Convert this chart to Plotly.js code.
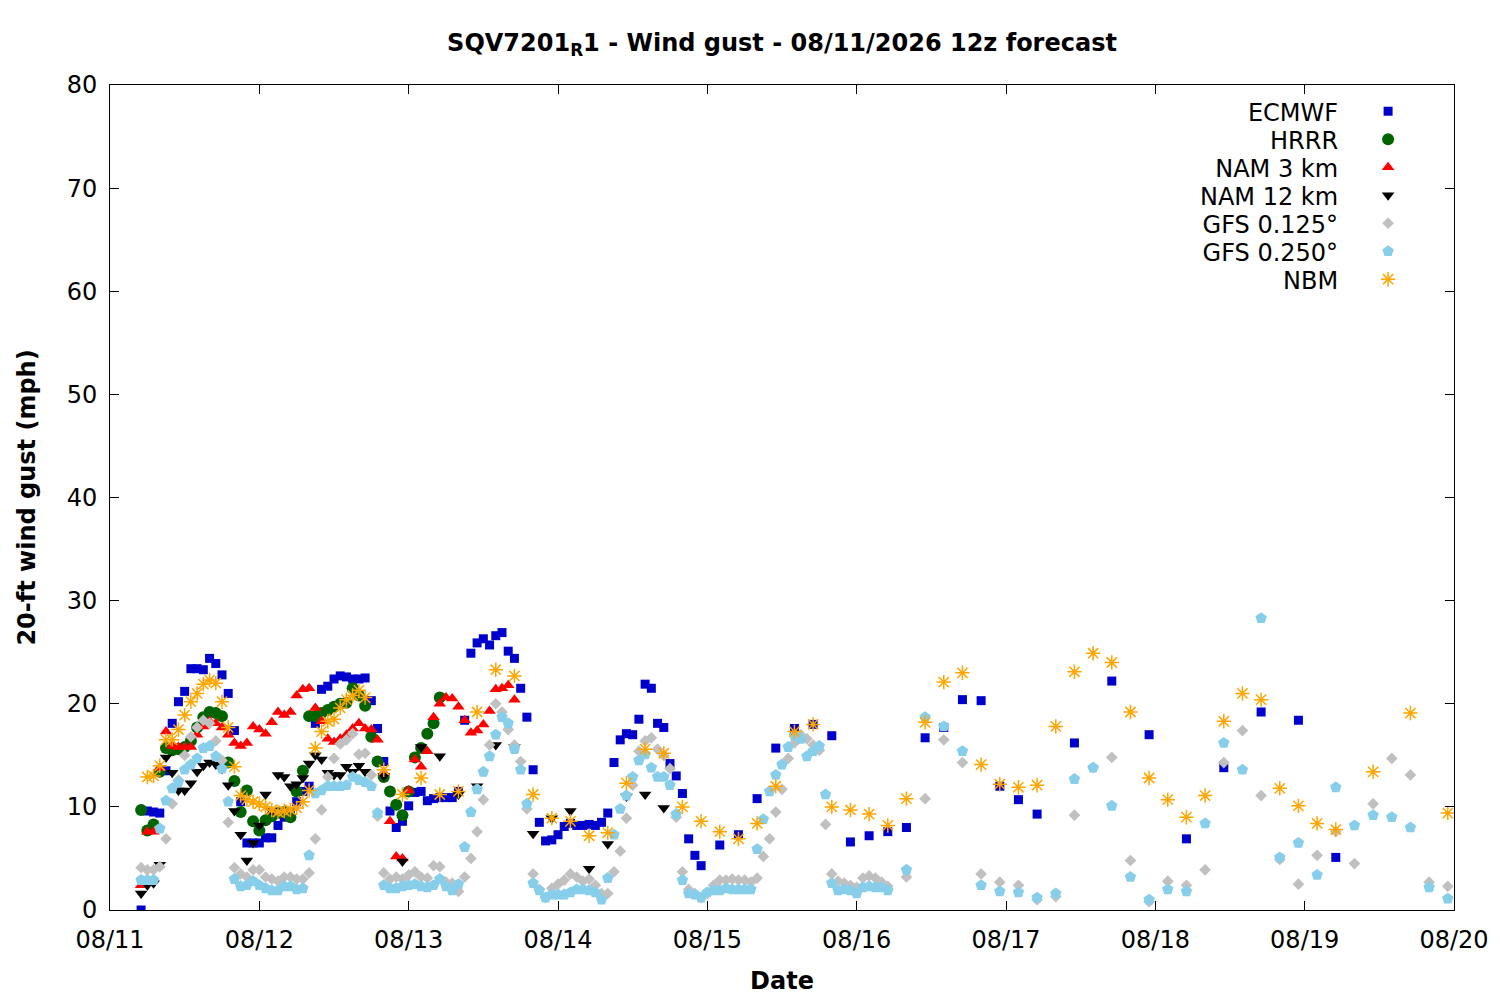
<!DOCTYPE html>
<html>
<head>
<meta charset="utf-8">
<script src="https://cdn.plot.ly/plotly-3.0.1.min.js"></script>
<style>
  html, body { margin: 0; padding: 0; background: #fff; }
  #chart { width: 1500px; height: 1000px; }
</style>
</head>
<body>
<div id="chart"></div>
<script>
// forecast hours are counted from 08/11 00:00 local; 12z run = hour 5

// ECMWF: hourly 5-95, 3-hourly 98-149, 6-hourly 155-197
const ecmwfHourly = [
  0, 9.6, 9.5, 9.4, 13.5, 18.1, 20.2, 21.2, 23.4, 23.4, 23.3, 24.4, 23.9, 22.8, 21.0, 17.4,
  10.5, 6.5, 6.5, 6.5, 7.0, 7.0, 8.2, 9.0, 9.5, 10.5, 11.5, 12.0, 18.1, 21.4, 21.7, 22.4,
  22.7, 22.6, 22.4, 22.4, 22.5, 20.3, 17.6, 14.4, 9.6, 8.0, 8.6, 10.1, 11.4, 11.5, 10.6, 10.8,
  10.9, 10.9, 10.9, 11.5, 18.4, 24.9, 25.9, 26.3, 25.7, 26.6, 26.9, 25.1, 24.4, 21.5, 18.7, 13.6,
  8.5, 6.7, 6.8, 7.3, 8.1, 8.4, 8.2, 8.2, 8.3, 8.2, 8.5, 9.4, 14.3, 16.5, 17.1, 17.0,
  18.5, 21.9, 21.5, 18.1, 17.7, 14.2, 13.0, 11.3, 6.9, 5.3, 4.3
];
const ecmwf3h = [6.3, 7.3, 10.8, 15.7, 17.6, 18.0, 16.9, 6.6, 7.2, 7.6, 8.0, 16.7, 17.7, 20.4, 20.3, 12.0, 10.7, 9.3];
const ecmwf6h = [16.2, 22.2, 17.0, 6.9, 13.8, 19.2, 18.4, 5.1];

// HRRR: hourly 5-53
const hrrrHourly = [
  9.7, 7.7, 8.3, 13.4, 15.7, 15.5, 15.6, 15.8, 16.4, 17.7, 18.7, 19.2, 19.1, 18.8, 14.3, 12.5,
  9.5, 11.6, 8.6, 7.7, 8.7, 9.1, 9.4, 9.5, 9.0, 11.5, 13.5, 18.8, 18.8, 19.1, 19.4, 19.7,
  20.0, 20.1, 21.5, 20.8, 19.8, 16.8, 14.4, 12.9, 11.5, 10.2, 9.2, 11.5, 14.8, 15.7, 17.1, 18.1,
  20.6
];

// NAM 3 km: hourly 5-65
const nam3Hourly = [
  2.4, 7.6, 7.6, 13.8, 17.3, 15.9, 15.8, 15.8, 15.8, 17.0, 17.8, 18.3, 18.1, 17.7, 17.0, 16.2,
  15.9, 16.2, 17.8, 17.5, 17.1, 18.2, 19.2, 18.9, 19.2, 20.8, 21.4, 21.5, 19.6, 18.3, 16.6, 16.3,
  16.6, 17.0, 17.6, 18.1, 17.6, 17.5, 16.5, 13.3, 8.6, 5.2, 5.0, 11.6, 14.6, 13.9, 15.4, 18.7,
  20.0, 20.6, 20.5, 19.7, 18.4, 17.2, 17.4, 18.0, 19.3, 21.4, 21.5, 21.8, 20.4
];

// NAM 12 km: hourly 5-41, 3-hourly 44-89
const nam12Hourly = [
  1.6, 2.4, 2.6, 4.4, 14.8, 13.3, 11.6, 11.6, 12.3, 13.4, 14.0, 14.3, 14.1, 13.7, 12.1, 9.6,
  7.3, 4.8, 6.5, 8.2, 11.2, 9.6, 13.1, 12.9, 12.0, 12.2, 12.8, 14.2, 15.0, 14.6, 13.3, 13.1,
  13.1, 13.9, 13.4, 14.0, 13.4
];
const nam12_3h = [13.0, 4.7, 15.8, 14.9, 11.2, 12.0, 16.0, 15.8, 7.4, 8.9, 9.6, 4.0, 6.4, 11.0, 11.2, 9.9];

// GFS 0.125: hourly 5-125, 3-hourly 128-215
const gfs125Hourly = [
  4.1, 3.9, 3.9, 4.2, 6.9, 10.3, 12.6, 15.0, 16.8, 17.7, 18.4, 18.1, 16.4, 14.5, 8.5, 4.1,
  3.5, 3.2, 3.9, 3.9, 3.2, 3.0, 2.8, 3.2, 3.2, 3.0, 3.0, 3.6, 6.9, 9.7, 12.9, 14.7,
  16.1, 16.5, 17.1, 15.1, 15.2, 13.1, 9.1, 3.6, 3.0, 3.2, 3.0, 3.4, 3.7, 3.2, 3.1, 4.3,
  4.2, 2.7, 2.6, 1.8, 3.2, 5.0, 7.6, 10.7, 16.0, 20.0, 19.2, 17.5, 16.0, 14.4, 9.8, 3.5,
  2.0, 1.2, 2.1, 2.5, 2.9, 3.5, 3.2, 2.8, 3.0, 2.4, 1.6, 1.6, 3.7, 5.7, 8.9, 12.1,
  15.4, 16.4, 16.7, 15.6, 15.0, 13.7, 9.0, 3.7, 2.0, 1.6, 1.2, 1.6, 2.4, 2.9, 2.9, 3.0,
  2.9, 2.9, 2.7, 3.1, 5.2, 6.9, 9.5, 11.7, 14.7, 16.2, 17.0, 16.6, 16.0, 15.5, 8.3, 3.5,
  2.8, 2.6, 2.4, 2.2, 3.1, 3.3, 3.1, 2.7, 2.3
];
const gfs125_3h = [
  3.2, 10.8, 16.5, 14.3, 3.5, 2.7, 2.4, 1.0, 1.3, 9.2, 13.8, 14.8, 4.8, 0.8, 2.8,
  2.4, 3.9, 14.3, 17.4, 11.1, 4.9, 2.5, 5.3, 7.6, 4.5, 10.3, 14.7, 13.1, 2.7, 2.3
];

// GFS 0.250: hourly 5-125, 3-hourly 128-215
const gfs250Hourly = [
  2.9, 2.9, 2.9, 7.9, 10.6, 11.8, 12.4, 13.6, 14.1, 14.7, 15.7, 15.9, 14.9, 13.7, 10.5, 3.0,
  2.3, 2.4, 2.8, 2.4, 2.1, 1.9, 1.9, 2.3, 2.3, 2.0, 2.1, 5.3, 11.3, 11.6, 12.0, 12.0,
  12.0, 12.1, 12.9, 12.6, 12.4, 12.0, 9.4, 2.4, 2.1, 2.1, 2.3, 2.4, 2.5, 2.3, 2.2, 2.4,
  3.0, 2.3, 1.9, 2.5, 6.1, 9.5, 11.7, 13.4, 14.9, 17.0, 18.7, 18.1, 15.6, 13.6, 10.3, 2.6,
  1.9, 1.2, 1.5, 1.5, 1.5, 1.7, 2.0, 2.0, 1.9, 1.7, 1.0, 3.1, 7.3, 9.8, 11.1, 12.9,
  14.5, 15.1, 13.8, 12.9, 12.9, 12.1, 9.3, 2.9, 1.6, 1.5, 1.2, 1.7, 1.9, 1.9, 2.1, 2.0,
  2.0, 2.0, 2.0, 5.9, 8.8, 11.5, 13.1, 14.1, 15.8, 16.9, 16.6, 14.9, 15.4, 15.9, 11.2, 2.6,
  1.9, 2.0, 1.9, 1.6, 2.2, 2.3, 2.2, 2.2, 1.9
];
const gfs250_3h = [
  3.9, 18.7, 17.8, 15.4, 2.4, 1.8, 1.7, 1.2, 1.6, 12.7, 13.8, 10.1, 3.2, 1.0, 2.0,
  1.8, 8.4, 16.2, 13.6, 28.3, 5.1, 6.5, 3.4, 11.9, 8.2, 9.2, 9.0, 8.0, 2.2, 1.1
];

// NBM: hourly 6-41, 3-hourly 44-197, 6-hourly 203-215
const nbmHourly = [
  12.9, 13.0, 14.0, 16.5, 16.5, 17.5, 18.9, 20.2, 21.0, 21.9, 22.3, 22.0, 20.2, 17.7, 13.9, 11.1,
  10.7, 10.5, 10.3, 10.0, 9.7, 9.5, 9.6, 9.7, 9.9, 10.5, 11.6, 15.7, 17.3, 18.3, 18.5, 19.6,
  20.4, 20.8, 21.3, 20.6
];
const nbm3h = [
  13.6, 11.2, 12.8, 11.2, 11.5, 19.2, 23.3, 22.7, 11.2, 8.9, 8.6, 7.2, 7.5, 12.3, 15.6, 15.2,
  10.0, 8.6, 7.6, 6.9, 8.4, 12.0, 17.3, 18.0, 10.0, 9.7, 9.3, 8.2, 10.8, 18.2, 22.1, 23.0,
  14.1, 12.2, 11.9, 12.1, 17.8, 23.1, 24.9, 24.0, 19.2, 12.8, 10.7, 9.0, 11.1, 18.3, 21.0, 20.4,
  11.8, 10.1, 8.4, 7.8
];
const nbm6h = [13.4, 19.1, 9.4];

// build time stamps from [firstHour, step, count] blocks
function stamps(blocks) {
  const out = [];
  blocks.forEach(([first, step, n]) => {
    for (let i = 0; i < n; i++) {
      const d = new Date(Date.UTC(2026, 7, 11) + (first + i * step) * 3600000);
      out.push(d.toISOString().slice(0, 16).replace("T", " "));
    }
  });
  return out;
}

function series(name, parts, starts, marker) {
  const blocks = parts.map((p, i) => [starts[i][0], starts[i][1], p.length]);
  return {
    name: name,
    x: stamps(blocks),
    y: [].concat(...parts),
    type: "scatter",
    mode: "markers",
    marker: marker,
  };
}

const traces = [
  series("ECMWF", [ecmwfHourly, ecmwf3h, ecmwf6h], [[5, 1], [98, 3], [155, 6]],
    { symbol: "square", size: 9, color: "#0000cd" }),
  series("HRRR", [hrrrHourly], [[5, 1]],
    { symbol: "circle", size: 12, color: "#006400" }),
  series("NAM 3 km", [nam3Hourly], [[5, 1]],
    { symbol: "triangle-up", size: 11, color: "#ff0000" }),
  series("NAM 12 km", [nam12Hourly, nam12_3h], [[5, 1], [44, 3]],
    { symbol: "triangle-down", size: 11, color: "#000000" }),
  series("GFS 0.125°", [gfs125Hourly, gfs125_3h], [[5, 1], [128, 3]],
    { symbol: "diamond", size: 9, color: "#c0c0c0" }),
  series("GFS 0.250°", [gfs250Hourly, gfs250_3h], [[5, 1], [128, 3]],
    { symbol: "pentagon", size: 12, color: "#87ceeb" }),
  series("NBM", [nbmHourly, nbm3h, nbm6h], [[6, 1], [44, 3], [203, 6]],
    { symbol: "asterisk-open", size: 12, color: "#ffa500", line: { color: "#ffa500", width: 1.5 } }),
];

const FONT = "DejaVu Sans, sans-serif";

Plotly.newPlot("chart", traces, {
  width: 1500,
  height: 1000,
  margin: { l: 110, r: 46, t: 85, b: 90 },
  paper_bgcolor: "#fff",
  plot_bgcolor: "#fff",
  font: { family: FONT, size: 24, color: "#000" },
  title: {
    text: "<b>SQV7201<sub>R</sub>1 - Wind gust - 08/11/2026 12z forecast</b>",
    font: { family: FONT, size: 24, color: "#000" },
    x: 0.5, xref: "paper", xanchor: "center",
    y: 0.957, yref: "container", yanchor: "middle",
  },
  xaxis: {
    type: "date",
    range: ["2026-08-11 00:00", "2026-08-20 00:00"],
    dtick: 86400000,
    tick0: "2026-08-11",
    tickformat: "%m/%d",
    ticks: "inside",
    ticklen: 9,
    tickcolor: "#000",
    ticklabelstandoff: 8,
    showline: true,
    linecolor: "#000",
    linewidth: 1,
    mirror: "allticks",
    showgrid: false,
    zeroline: false,
    tickfont: { family: FONT, size: 24 },
    title: { text: "<b>Date</b>", font: { family: FONT, size: 24 }, standoff: 19 },
  },
  yaxis: {
    range: [0, 80],
    dtick: 10,
    ticks: "inside",
    ticklen: 9,
    tickcolor: "#000",
    ticklabelstandoff: 7,
    showline: true,
    linecolor: "#000",
    linewidth: 1,
    mirror: "allticks",
    showgrid: false,
    zeroline: false,
    tickfont: { family: FONT, size: 24 },
    title: { text: "<b>20-ft wind gust (mph)</b>", font: { family: FONT, size: 24 }, standoff: 24 },
  },
  legend: {
    x: 0.884, y: 0.995, xanchor: "left", yanchor: "top",
    bgcolor: "rgba(0,0,0,0)",
    font: { family: FONT, size: 24 },
    tracegroupgap: 0,
  },
  showlegend: true,
}, { displayModeBar: false }).then(function (gd) {
  // gnuplot-style key: text right-aligned, symbol to the right of the text
  gd.querySelectorAll(".legend [clip-path]").forEach(function (el) {
    el.removeAttribute("clip-path");
  });
  const items = gd.querySelectorAll(".legend .traces");
  let y0 = null;
  items.forEach(function (g, i) {
    const txt = g.querySelector("text.legendtext");
    if (txt) txt.setAttribute("text-anchor", "end");
    const pts = g.querySelector(".legendpoints");
    if (pts) pts.setAttribute("transform", "translate(70,0)");
    const m = /translate\(([-\d.]+)[ ,]+([-\d.]+)\)/.exec(g.getAttribute("transform") || "");
    if (m) {
      if (y0 === null) y0 = parseFloat(m[2]);
      g.setAttribute("transform", "translate(" + m[1] + "," + (y0 + i * 28) + ")");
    }
  });
});
</script>
</body>
</html>
